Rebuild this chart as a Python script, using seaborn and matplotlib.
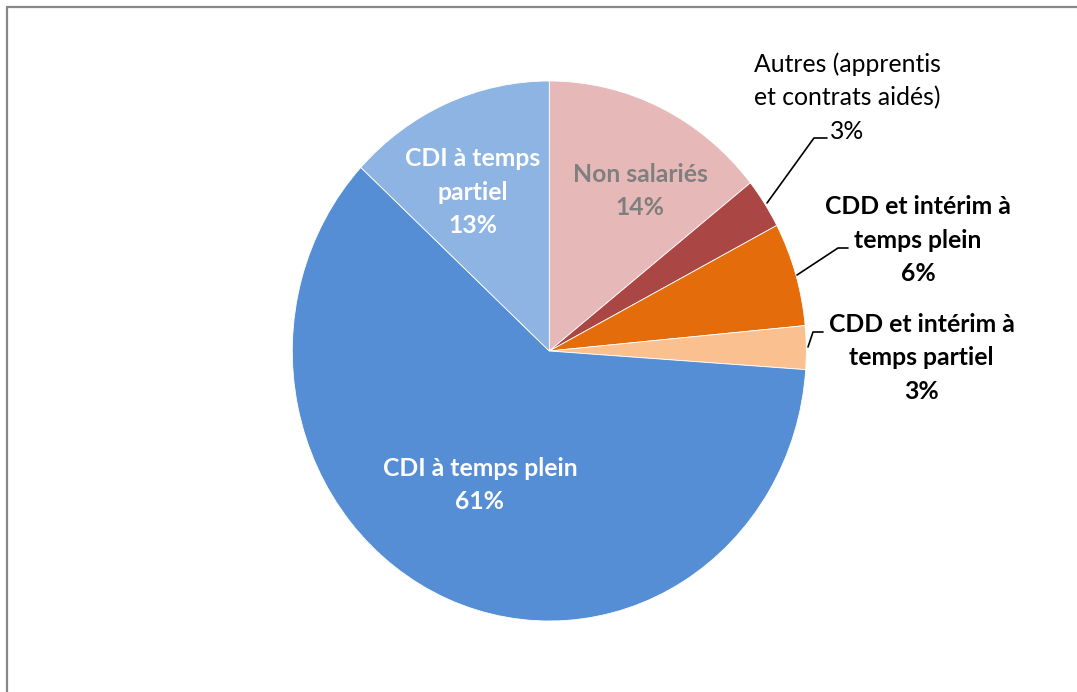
import matplotlib
matplotlib.use("Agg")
import matplotlib.pyplot as plt
import seaborn as sns
from matplotlib.lines import Line2D

# ---- data ----
categories = ["Non salariés", "Autres (apprentis\net contrats aidés)",
              "CDD et intérim à\ntemps plein", "CDD et intérim à\ntemps partiel",
              "CDI à temps plein", "CDI à temps\npartiel"]
shares = [14.3, 3.0, 6.2, 2.6, 60.8, 13.1]
colors = ["#E6B9B8", "#AA4643", "#E46C0A", "#FAC090", "#558ED5", "#8EB4E3"]

sns.set_theme(style="white")
plt.rcParams['font.family'] = ['Lato', 'DejaVu Sans']

W, H = 1077, 692
fig = plt.figure(figsize=(W / 100, H / 100), dpi=100)
fig.patch.set_facecolor("white")

# pie centre & radii (pixels)
cx, cy, rx, ry = 549.3, 351.0, 257.0, 270.0
ax = fig.add_axes([(cx - rx) / W, (H - cy - ry) / H, 2 * rx / W, 2 * ry / H])
wedges, _ = ax.pie(shares, colors=colors, startangle=90, counterclock=False,
                   radius=1.0, wedgeprops=dict(edgecolor="white", linewidth=0.6))
ax.set_aspect("auto")
ax.set_xlim(-1, 1)
ax.set_ylim(-1, 1)
ax.axis("off")


def px(x, y):
    return (x - cx) / rx, (cy - y) / ry


def lab(i):
    return f"{categories[i]}\n{shares[i]:.0f}%"


fs = 17.8
# label spec: (index, pixel position, color, weight)
label_spec = [
    (0, (640, 191), "#7F7F7F", "bold"),
    (1, (847, 97.5), "black", "normal"),
    (2, (918, 240), "black", "bold"),
    (3, (921.5, 357.7), "black", "bold"),
    (4, (480, 485), "white", "bold"),
    (5, (473, 192), "white", "bold"),
]
for i, (x, y), c, w in label_spec:
    ax.text(*px(x, y), lab(i), ha="center", va="center", multialignment="center",
            color=c, fontsize=fs, fontweight=w, linespacing=1.55, clip_on=False)

# leader lines (pixel coordinates)
leaders = [
    [(767, 203), (814, 138), (827, 138)],
    [(797, 275), (838, 248), (848, 248)],
    [(808, 347), (813, 332), (823, 332)],
]
for pts in leaders:
    xs, ys = zip(*[px(x, y) for x, y in pts])
    ax.plot(xs, ys, color="black", lw=1.2, clip_on=False)

# chart-area frame (extends past right/bottom edges)
fig.add_artist(Line2D([6.5 / W, 1.0], [1 - 6.5 / H, 1 - 6.5 / H], color="#888888", lw=1.6,
                      transform=fig.transFigure))
fig.add_artist(Line2D([6.5 / W, 6.5 / W], [0, 1 - 6.5 / H], color="#888888", lw=1.6,
                      transform=fig.transFigure))

fig.savefig("out.png", dpi=100)
